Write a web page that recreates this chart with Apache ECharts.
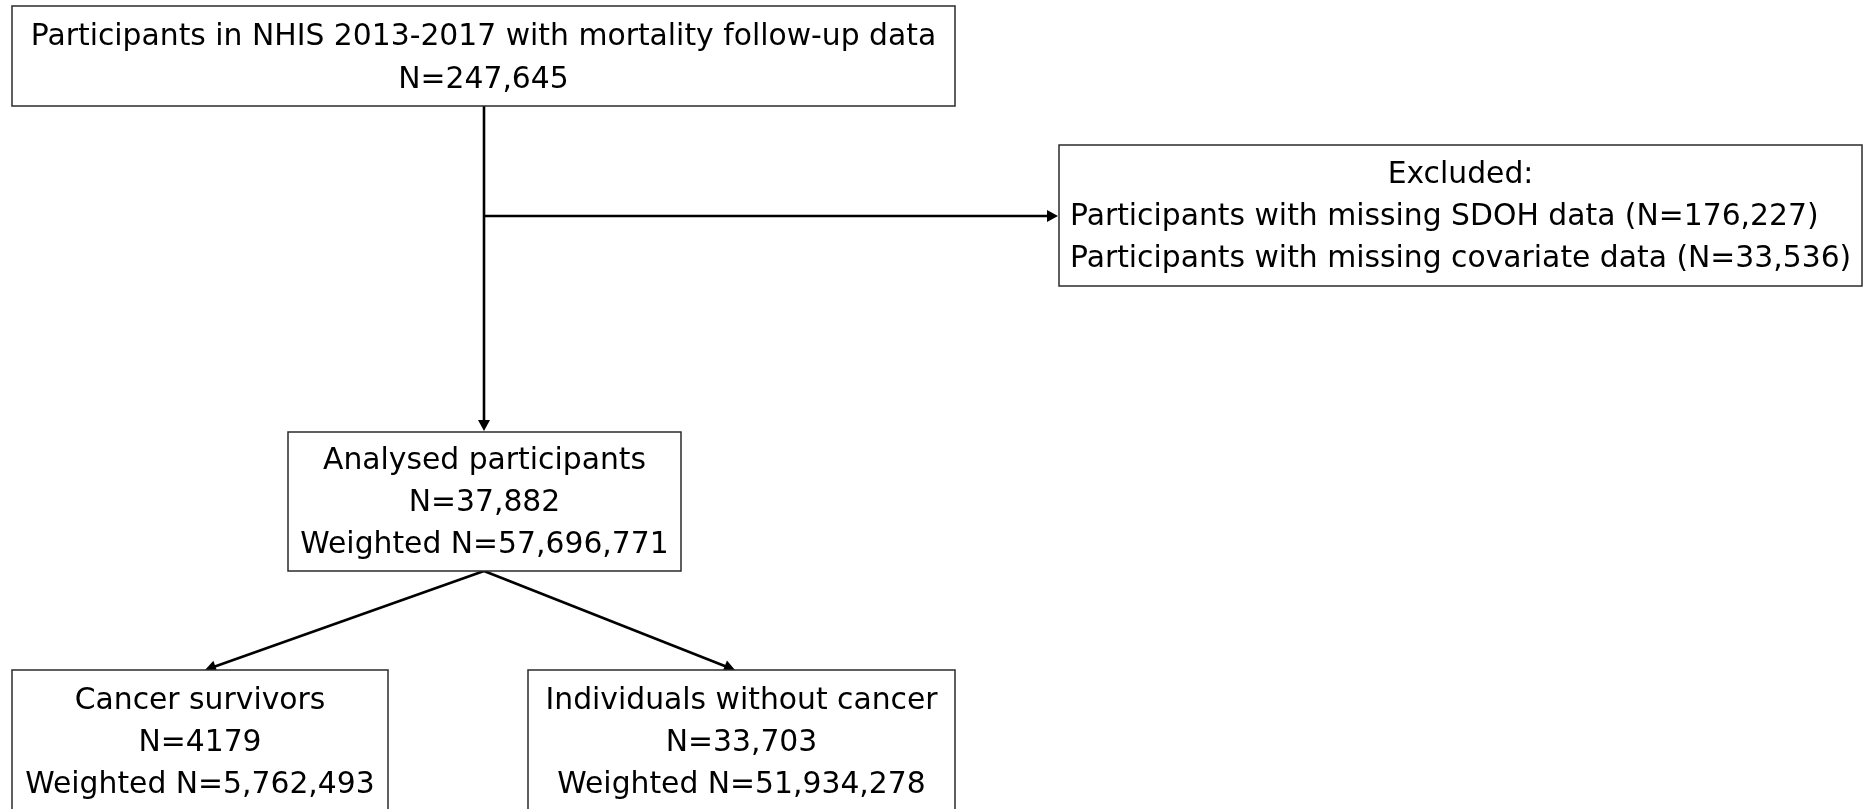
<!DOCTYPE html>
<html>
<head>
<meta charset="utf-8">
<script src="https://cdn.jsdelivr.net/npm/echarts@6/dist/echarts.min.js"></script>
<style>
html,body{margin:0;padding:0;background:#fff;}
#chart{width:1864px;height:809px;}
</style>
</head>
<body>
<div id="chart"></div>
<script>
// ---- data ----
const stageNames = ['Participants in NHIS 2013-2017 with mortality follow-up data', 'Analysed participants', 'Cancer survivors', 'Individuals without cancer'];
const stageN = ['247,645', '37,882', '4179', '33,703'];
const stageWeightedN = [null, '57,696,771', '5,762,493', '51,934,278'];
const exclusionTitle = 'Excluded:';
const exclusionReasons = ['Participants with missing SDOH data', 'Participants with missing covariate data'];
const exclusionN = ['176,227', '33,536'];

// ---- layout (pixel units of a 1864 x 809 canvas) ----
const stageBoxes = [
  { x0: 12, y0: 6, x1: 955, y1: 106, lines: [37, 80] },
  { x0: 288, y0: 432, x1: 681, y1: 571, lines: [461, 503, 545] },
  { x0: 12, y0: 670, x1: 388, y1: 830, lines: [701, 743, 785] },
  { x0: 528, y0: 670, x1: 955, y1: 830, lines: [701, 743, 785] }
];
const exclusionBox = { x0: 1059, y0: 145, x1: 1862, y1: 286, lines: [175, 217, 259], padLeft: 11 };
const connectors = [
  { pts: [[484, 106], [484, 431]], arrow: true },
  { pts: [[484, 216], [1058, 216]], arrow: true },
  { pts: [[484, 571], [205, 670]], arrow: true },
  { pts: [[484, 571], [735, 670]], arrow: true }
];

const FONT = '29.8px "DejaVu Sans", sans-serif';
const BORDER = '#2b2b2b';

function boxItems() {
  const items = [];
  stageNames.forEach((name, i) => {
    const lines = [name, 'N=' + stageN[i]];
    if (stageWeightedN[i]) lines.push('Weighted N=' + stageWeightedN[i]);
    items.push({ box: stageBoxes[i], lines: lines, align: lines.map(() => 'center') });
  });
  const exLines = [exclusionTitle].concat(exclusionReasons.map((r, i) => r + ' (N=' + exclusionN[i] + ')'));
  items.push({ box: exclusionBox, lines: exLines, align: ['center', 'left', 'left'] });
  return items;
}
const items = boxItems();

const chart = echarts.init(document.getElementById('chart'), null, { renderer: 'canvas' });
chart.setOption({
  animation: false,
  backgroundColor: '#ffffff',
  grid: { left: 0, right: 0, top: 0, bottom: 0 },
  xAxis: { type: 'value', min: 0, max: 1864, show: false },
  yAxis: { type: 'value', min: 0, max: 809, inverse: true, show: false },
  series: [
    {
      type: 'custom',
      coordinateSystem: 'cartesian2d',
      data: connectors.map((c, i) => [i]),
      clip: false,
      z: 1,
      renderItem: function (params, api) {
        const c = connectors[params.dataIndex];
        const pts = c.pts.map(p => api.coord(p));
        const children = [];
        const a = pts[pts.length - 2], b = pts[pts.length - 1];
        const dx = b[0] - a[0], dy = b[1] - a[1];
        const len = Math.sqrt(dx * dx + dy * dy);
        const ux = dx / len, uy = dy / len;
        const L = 11, W = 6;
        const base = [b[0] - ux * L, b[1] - uy * L];
        const linePts = pts.slice(0, -1).concat([[b[0] - ux * (L - 2), b[1] - uy * (L - 2)]]);
        children.push({ type: 'polyline', shape: { points: linePts }, style: { stroke: '#000', lineWidth: 2.6, fill: null } });
        if (c.arrow) {
          children.push({
            type: 'polygon',
            shape: { points: [b, [base[0] - uy * W, base[1] + ux * W], [base[0] + uy * W, base[1] - ux * W]] },
            style: { fill: '#000' }
          });
        }
        return { type: 'group', children: children };
      }
    },
    {
      type: 'custom',
      coordinateSystem: 'cartesian2d',
      data: items.map((it, i) => [i]),
      clip: false,
      z: 2,
      renderItem: function (params, api) {
        const it = items[params.dataIndex];
        const b = it.box;
        const p0 = api.coord([b.x0, b.y0]);
        const p1 = api.coord([b.x1, b.y1]);
        const children = [{
          type: 'rect',
          shape: { x: p0[0], y: p0[1], width: p1[0] - p0[0], height: p1[1] - p0[1] },
          style: { fill: '#fff', stroke: BORDER, lineWidth: 1.5 }
        }];
        it.lines.forEach((t, k) => {
          const al = it.align[k];
          const yy = api.coord([0, b.lines[k]])[1];
          const xx = al === 'center' ? (p0[0] + p1[0]) / 2 : p0[0] + (b.padLeft || 0);
          children.push({
            type: 'text',
            style: { text: t, x: xx, y: yy, font: FONT, fill: '#000', align: al, verticalAlign: 'middle' }
          });
        });
        return { type: 'group', children: children };
      }
    }
  ]
});
</script>
</body>
</html>
